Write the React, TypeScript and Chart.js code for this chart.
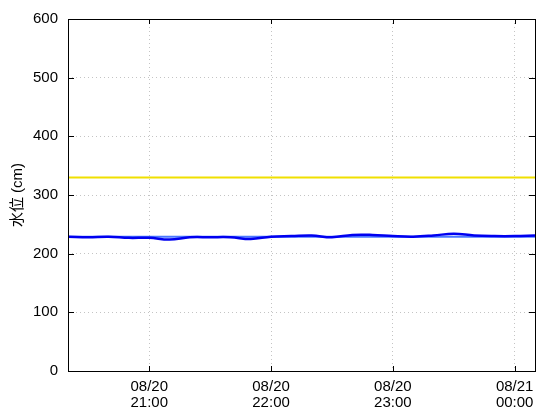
import React, { useEffect, useRef } from "react";
import { Chart, registerables } from "chart.js";

Chart.register(...registerables);

// minutes since 08/20 00:00
const times: number[] = [
  1220, 1230, 1240, 1250, 1260, 1270, 1280, 1290, 1300, 1310, 1320, 1330,
  1340, 1350, 1360, 1370, 1380, 1390, 1400, 1410, 1420, 1430, 1440, 1450,
];
const waterLevel: number[] = [
  229, 228, 229, 227, 227, 224, 228, 228, 228, 225, 229, 230,
  231, 228, 232, 232, 230, 229, 231, 234, 231, 230, 230, 231,
];
const baseLevel = 229;
const warningLevel = 330;
const xTickValues: number[] = [1260, 1320, 1380, 1440];
const xTickLabels: string[][] = [
  ["08/20", "21:00"],
  ["08/20", "22:00"],
  ["08/20", "23:00"],
  ["08/21", "00:00"],
];
const yTitle = "水位 (cm)";

const FONT = "'Liberation Sans', 'Noto Sans CJK JP', sans-serif";

const framePlugin = {
  id: "frame",
  afterDatasetsDraw(chart: any) {
    const { ctx, chartArea: a, scales } = chart;
    ctx.save();
    ctx.strokeStyle = "#000";
    ctx.lineWidth = 1;
    ctx.beginPath();
    for (const t of scales.y.ticks) {
      const y = Math.round(scales.y.getPixelForValue(t.value)) + 0.5;
      ctx.moveTo(a.left, y);
      ctx.lineTo(a.left + 6, y);
      ctx.moveTo(a.right - 6, y);
      ctx.lineTo(a.right, y);
    }
    for (const t of scales.x.ticks) {
      const x = Math.round(scales.x.getPixelForValue(t.value)) + 0.5;
      ctx.moveTo(x, a.bottom);
      ctx.lineTo(x, a.bottom - 5);
      ctx.moveTo(x, a.top);
      ctx.lineTo(x, a.top + 5);
    }
    ctx.stroke();
    const l = Math.round(a.left) + 0.5;
    const t = Math.round(a.top) + 0.5;
    const r = Math.round(a.right) + 0.5;
    const b = Math.round(a.bottom) + 0.5;
    ctx.strokeRect(l, t, r - l, b - t);
    ctx.restore();
  },
};

export default function App() {
  const ref = useRef<HTMLCanvasElement>(null);
  useEffect(() => {
    const canvas = ref.current!;
    const chart = new Chart(canvas, {
      type: "line",
      data: {
        datasets: [
          {
            data: times.map((t, i) => ({ x: t, y: waterLevel[i] })),
            borderColor: "#0000f0",
            borderWidth: 2.5,
            pointRadius: 0,
            tension: 0.4,
            order: 0,
          },
          {
            data: [
              { x: times[0], y: baseLevel },
              { x: times[times.length - 1], y: baseLevel },
            ],
            borderColor: "#4a78ff",
            borderWidth: 2,
            pointRadius: 0,
            order: 1,
          },
          {
            data: [
              { x: times[0], y: warningLevel },
              { x: times[times.length - 1], y: warningLevel },
            ],
            borderColor: "#f0e000",
            borderWidth: 2,
            pointRadius: 0,
            order: 2,
          },
        ],
      },
      options: {
        responsive: false,
        animation: false,
        layout: { padding: { top: 15, right: 25, left: 0, bottom: 0 } },
        plugins: { legend: { display: false }, tooltip: { enabled: false } },
        scales: {
          x: {
            type: "linear",
            min: times[0],
            max: times[times.length - 1],
            afterBuildTicks: (s: any) => {
              s.ticks = xTickValues.map((v) => ({ value: v }));
            },
            afterFit: (s: any) => {
              s.height = 49;
            },
            ticks: {
              autoSkip: false,
              maxRotation: 0,
              padding: 8,
              color: "#000",
              font: { family: FONT, size: 15, lineHeight: 1.07 },
              callback: (v: any) => {
                const i = xTickValues.indexOf(Number(v));
                return i >= 0 ? xTickLabels[i] : "";
              },
            },
            grid: { color: "#c4c4c4", drawTicks: false, lineWidth: 1 },
            border: { display: false, dash: [1, 3] },
          },
          y: {
            min: 0,
            max: 600,
            afterFit: (s: any) => {
              s.width = 68;
            },
            ticks: {
              stepSize: 100,
              padding: 10,
              color: "#000",
              font: { family: FONT, size: 15 },
            },
            grid: { color: "#c4c4c4", drawTicks: false, lineWidth: 1 },
            border: { display: false, dash: [1, 3] },
            title: {
              display: true,
              text: yTitle,
              color: "#000",
              font: { family: FONT, size: 15 },
              padding: { top: 9, bottom: 0 },
            },
          },
        },
      },
      plugins: [framePlugin],
    });
    return () => chart.destroy();
  }, []);
  return (
    <div style={{ position: "fixed", left: 0, top: 0, width: 560, height: 420, background: "#fff" }}>
      <canvas ref={ref} width={560} height={420} />
    </div>
  );
}
